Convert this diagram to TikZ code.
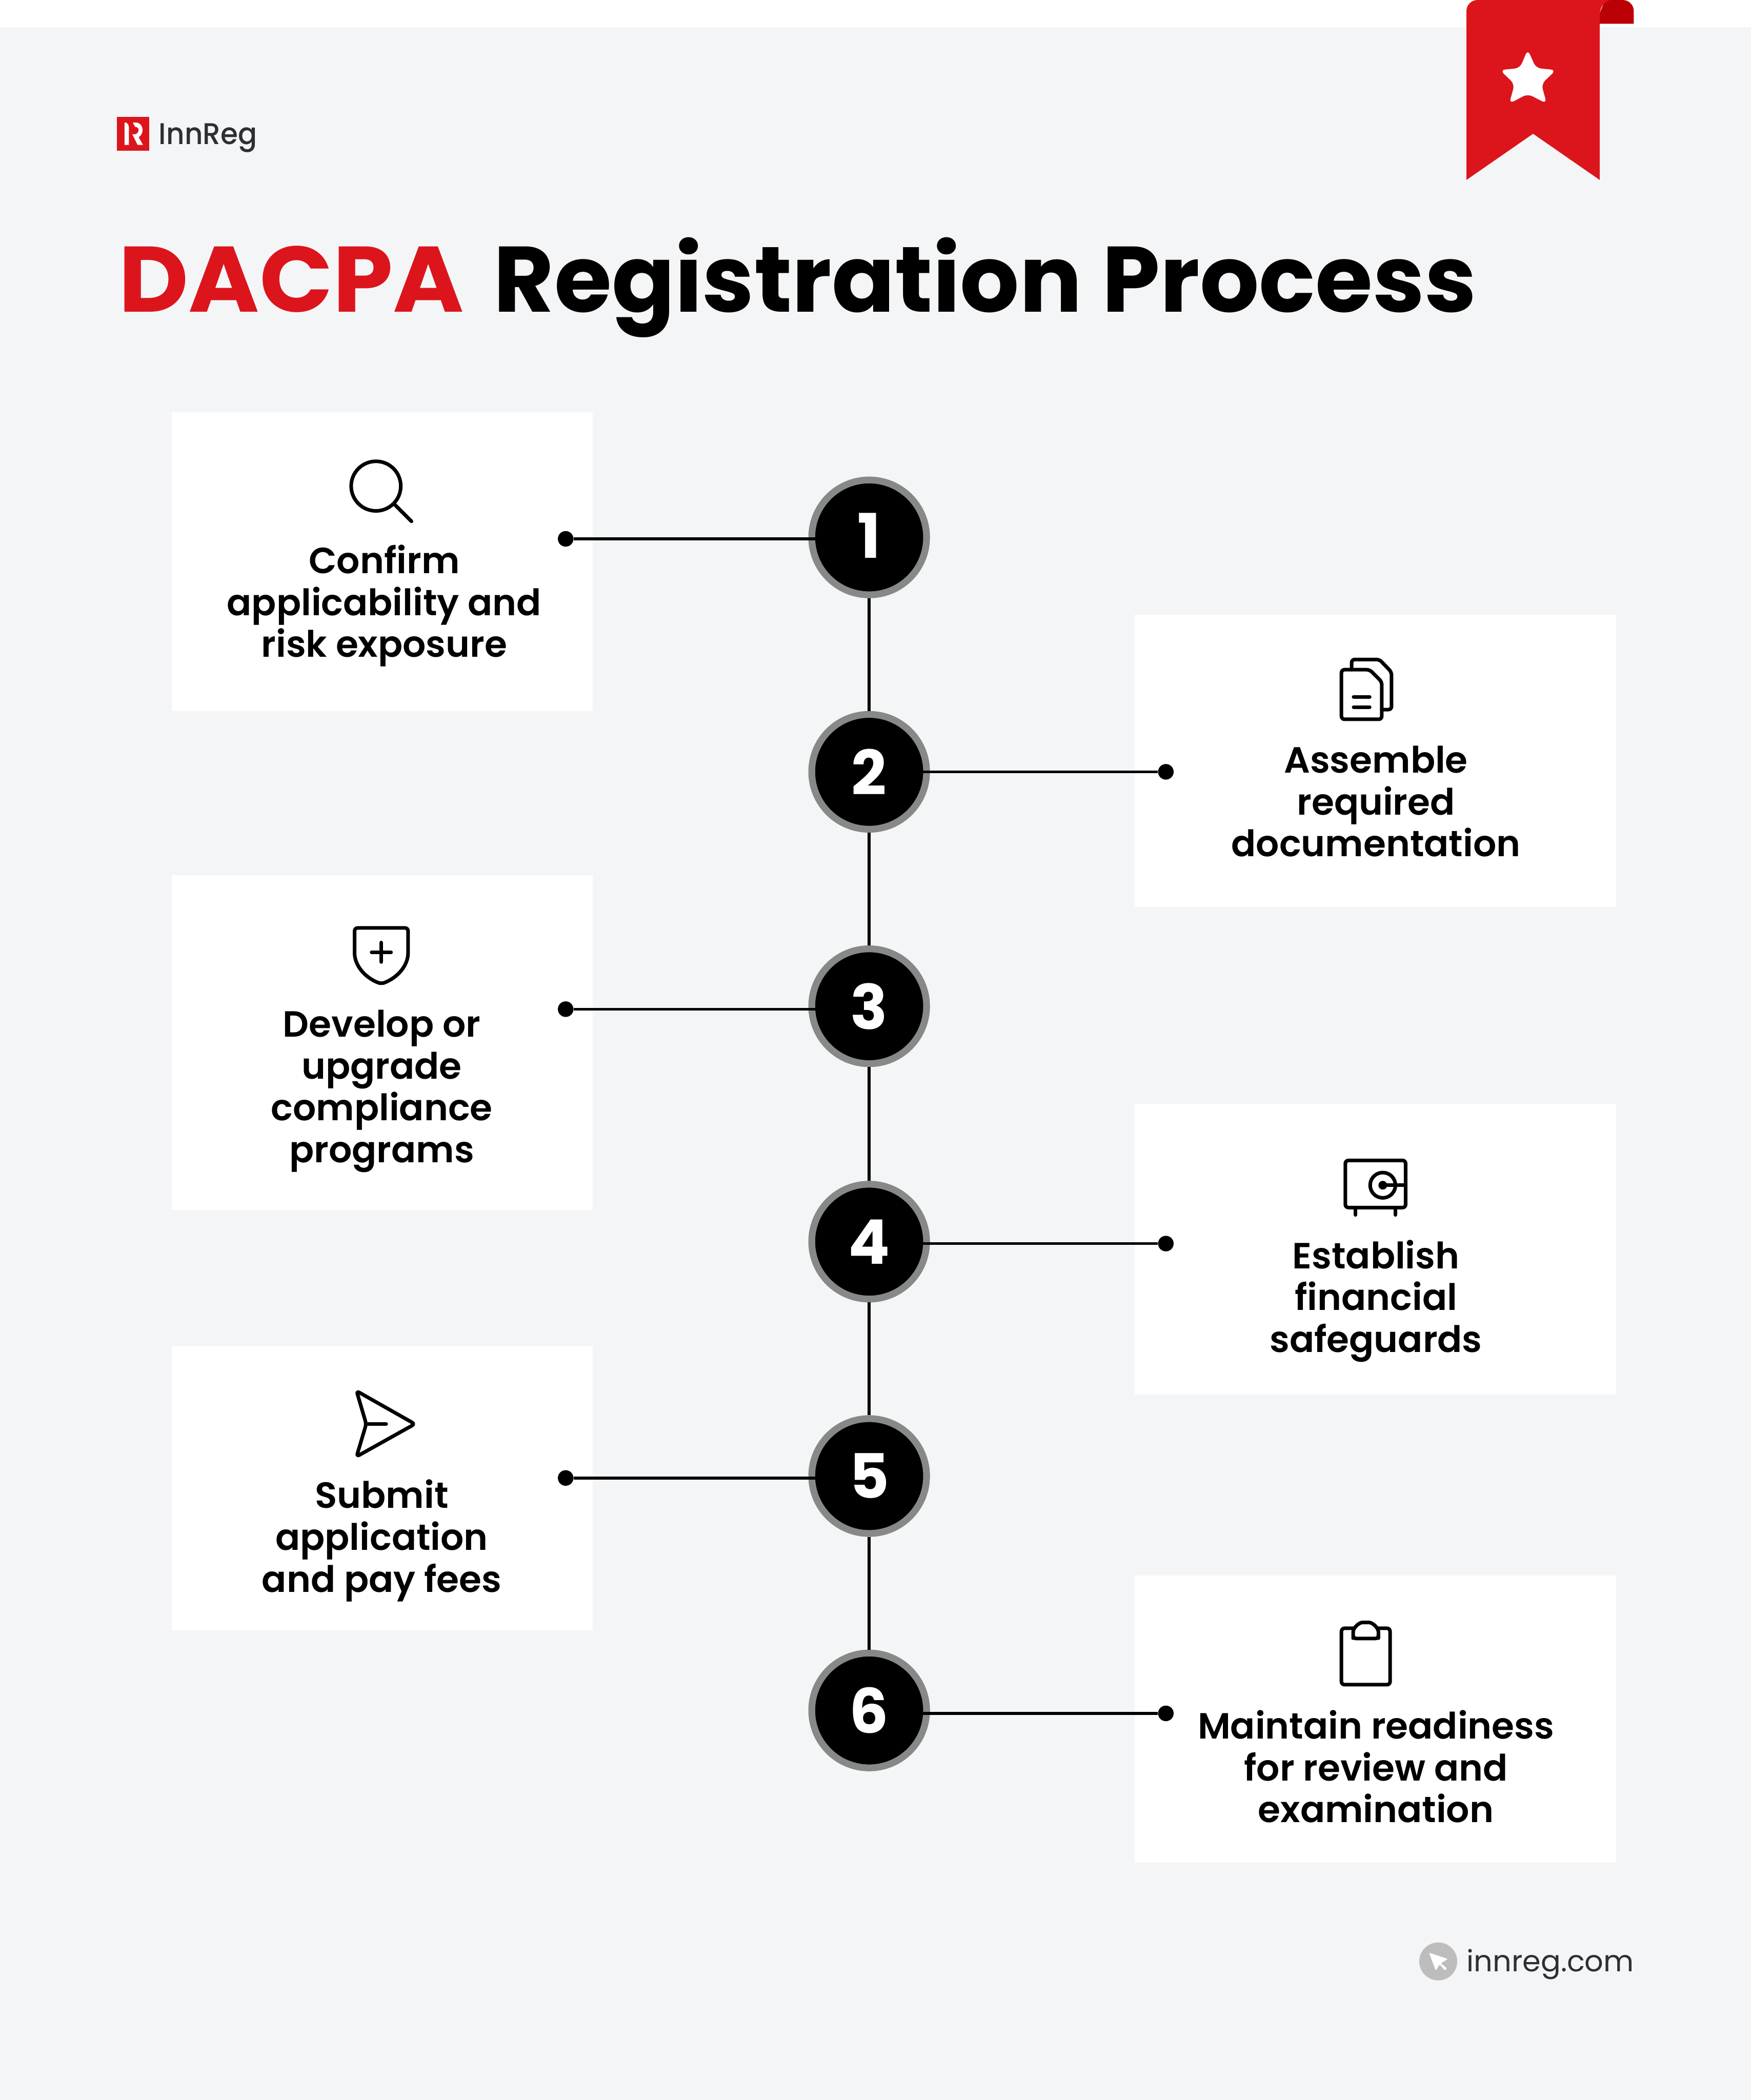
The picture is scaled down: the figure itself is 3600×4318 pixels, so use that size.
\documentclass[tikz,border=0pt]{standalone}
\usepackage{fontspec}
\setmainfont{Poppins}
\newfontfamily\semi{Poppins SemiBold}
\newfontfamily\popb{Poppins Bold}
\newfontfamily\popm{Poppins Medium}
\newcommand\labfont{\semi\fontsize{21.3}{24.47}\selectfont\setlength{\lineskiplimit}{-30pt}}
\definecolor{bgc}{HTML}{F4F5F7}
\definecolor{redc}{HTML}{DC151C}
\definecolor{darkred}{HTML}{BB0006}
\definecolor{ringc}{HTML}{878988}
\definecolor{inkc}{HTML}{2D3033}
\definecolor{greyc}{HTML}{BDBDBD}
\tikzset{
  card/.style={fill=white,draw=none,inner sep=0pt,outer sep=0pt,anchor=north west},
  stepc/.style={circle,fill=black,draw=ringc,line width=3.98pt,minimum size=2.36cm,inner sep=0pt,text=white,font=\popb\fontsize{36}{36}\selectfont},
  lab/.style={align=center,inner sep=0pt,outer sep=0pt,text=black,font=\labfont},
  dotn/.style={circle,fill=black,draw=none,minimum size=0.32cm,inner sep=0pt},
  conn/.style={draw=black,line width=1.7pt},
  ico/.style={draw=black,line width=2.1pt,line cap=round,line join=round,rounded corners=1.8pt},
}
\begin{document}
\begin{tikzpicture}[x=0.01cm,y=-0.01cm]
\useasboundingbox (0,0) rectangle (3600,4318);
\fill[white] (0,0) rectangle (3600,56);
\fill[bgc] (0,56) rectangle (3600,4318);
% logo
\fill[redc] (240,240) rectangle (307,310);
\fill[white] (256,252) -- (259,252) .. controls (263,254) and (265,258) .. (265,263) -- (265,298) -- (256,298) -- cycle;
\fill[white] (273,252) -- (279,252) .. controls (288,252) and (293,259) .. (293,267) .. controls (293,275) and (289,280) .. (285,282) -- (294,298) -- (283,298) -- (272,276) -- (278,276) .. controls (282,275) and (285,272) .. (285,267) .. controls (285,263) and (282,261) .. (278,261) -- cycle;
\node[anchor=base west,inner sep=0pt,text=inkc,font=\popm\fontsize{17.5}{20}\selectfont] (brand) at (326,297) {\scalebox{0.94}[1]{InnReg}};
% bookmark
\fill[darkred] (3300,0) -- (3336,0) .. controls (3349,0) and (3359,10) .. (3359,23) -- (3359,49) -- (3280,49) -- cycle;
\fill[redc] (3038,0) -- (3312,0) .. controls (3298,2) and (3289,15) .. (3289,32) -- (3289,370) -- (3152,275) -- (3015,370) -- (3015,23) .. controls (3015,10) and (3025,0) .. (3038,0) -- cycle;
\fill[white,rounded corners=3pt] (3141,102) -- (3158,140) -- (3199,144) -- (3169,173) -- (3180,213) -- (3141,193) -- (3103,213) -- (3114,173) -- (3084,144) -- (3125,140) -- cycle;
% title
\node[anchor=base west,inner sep=0pt,font=\popb\fontsize{54.4}{60}\selectfont] (title) at (243,642) {\textcolor{redc}{\scalebox{1.035}[1]{DACPA}}\hspace{0.32em}\textcolor{black}{Registration Process}};
% cards
\node[card,minimum width=8.65cm,minimum height=6.14cm] (card1) at (353,848) {};
\node[card,minimum width=9.89cm,minimum height=6.01cm] (card2) at (2333,1264) {};
\node[card,minimum width=8.65cm,minimum height=6.88cm] (card3) at (353,1799) {};
\node[card,minimum width=9.89cm,minimum height=5.97cm] (card4) at (2333,2270) {};
\node[card,minimum width=8.65cm,minimum height=5.84cm] (card5) at (353,2768) {};
\node[card,minimum width=9.89cm,minimum height=5.90cm] (card6) at (2333,3239) {};
% labels
\node[lab] (t1) at (790,1248) {\strut Confirm\\\strut applicability and\\\strut risk exposure};
\node[lab] (t2) at (2829,1658) {\strut Assemble\\\strut required\\\strut documentation};
\node[lab] (t3) at (785,2244) {\strut Develop or\\\strut upgrade\\\strut compliance\\\strut programs};
\node[lab] (t4) at (2829,2677) {\strut Establish\\\strut financial\\\strut safeguards};
\node[lab] (t5) at (785,3170) {\strut Submit\\\strut application\\\strut and pay fees};
\node[lab] (t6) at (2829,3644) {\strut Maintain readiness\\\strut for review and\\\strut examination};
% steps
\node[stepc] (c1) at (1787,1105) {\raisebox{2pt}{1}};
\node[stepc] (c2) at (1787,1587) {2};
\node[stepc] (c3) at (1787,2069) {3};
\node[stepc] (c4) at (1787,2553) {4};
\node[stepc] (c5) at (1787,3035) {5};
\node[stepc] (c6) at (1787,3517) {6};
% dots
\node[dotn] (d1) at (1163,1108) {};
\node[dotn] (d2) at (2397,1587) {};
\node[dotn] (d3) at (1163,2075) {};
\node[dotn] (d4) at (2397,2557) {};
\node[dotn] (d5) at (1163,3039) {};
\node[dotn] (d6) at (2397,3523) {};
% connectors
\draw[conn] (c1.south) -- (c2.north);
\draw[conn] (c2.south) -- (c3.north);
\draw[conn] (c3.south) -- (c4.north);
\draw[conn] (c4.south) -- (c5.north);
\draw[conn] (c5.south) -- (c6.north);
\draw[conn,shorten >=-4pt] (d1) -- (d1 -| c1.west);
\draw[conn,shorten >=-4pt] (d2) -- (d2 -| c2.east);
\draw[conn,shorten >=-4pt] (d3) -- (d3 -| c3.west);
\draw[conn,shorten >=-4pt] (d4) -- (d4 -| c4.east);
\draw[conn,shorten >=-4pt] (d5) -- (d5 -| c5.west);
\draw[conn,shorten >=-4pt] (d6) -- (d6 -| c6.east);
% search icon
\draw[ico] (773,999.5) circle[radius=51];
\draw[ico] (811,1037) -- (846,1072);
% documents icon
\draw[ico] (2790,1377) -- (2758,1377) -- (2758,1479) -- (2841,1479) -- (2841,1402) -- (2816,1377) -- cycle;
\draw[ico] (2779,1377) -- (2779,1356) -- (2836,1356) -- (2861,1382) -- (2861,1459) -- (2841,1459);
\draw[ico] (2783,1433) -- (2816,1433);
\draw[ico] (2783,1454) -- (2816,1454);
% shield icon
\draw[ico] (784,1908) -- (839,1908) -- (839,1953) .. controls (839,1985) and (818,2010) .. (784,2023) .. controls (750,2010) and (729,1985) .. (729,1953) -- (729,1908) -- cycle;
\draw[ico] (764,1958) -- (804,1958);
\draw[ico] (784,1938) -- (784,1978);
% safe icon
\draw[ico] (2766,2386) rectangle (2890,2483);
\draw[ico] (2843,2437) circle[radius=26];
\fill[black] (2843,2437) circle[radius=9];
\draw[ico] (2843,2437) -- (2890,2437);
\draw[ico] (2787,2483) -- (2787,2498);
\draw[ico] (2869,2483) -- (2869,2498);
% send icon
\draw[ico] (753,2928) -- (733,2860) -- (853,2928) -- (733,2995) -- cycle;
\draw[ico] (753,2928) -- (794,2928);
% clipboard icon
\draw[ico] (2758,3348) rectangle (2858,3464);
\draw[ico,fill=white] (2782,3369) -- (2782,3362) .. controls (2782,3347.6) and (2793.6,3336) .. (2808,3336) .. controls (2822.4,3336) and (2834,3347.6) .. (2834,3362) -- (2834,3369) -- cycle;
% footer
\fill[greyc] (2957,4033) circle[radius=39];
\fill[white,rounded corners=0.8pt] (2938,4015) -- (2977,4028) -- (2962,4037) -- (2975,4047) -- (2971,4052) -- (2960,4039) -- (2952,4052) -- cycle;
\node[anchor=base west,inner sep=0pt,text=inkc,font=\fontsize{17.2}{20}\selectfont] (site) at (3015,4054) {innreg.com};
\end{tikzpicture}
\end{document}
